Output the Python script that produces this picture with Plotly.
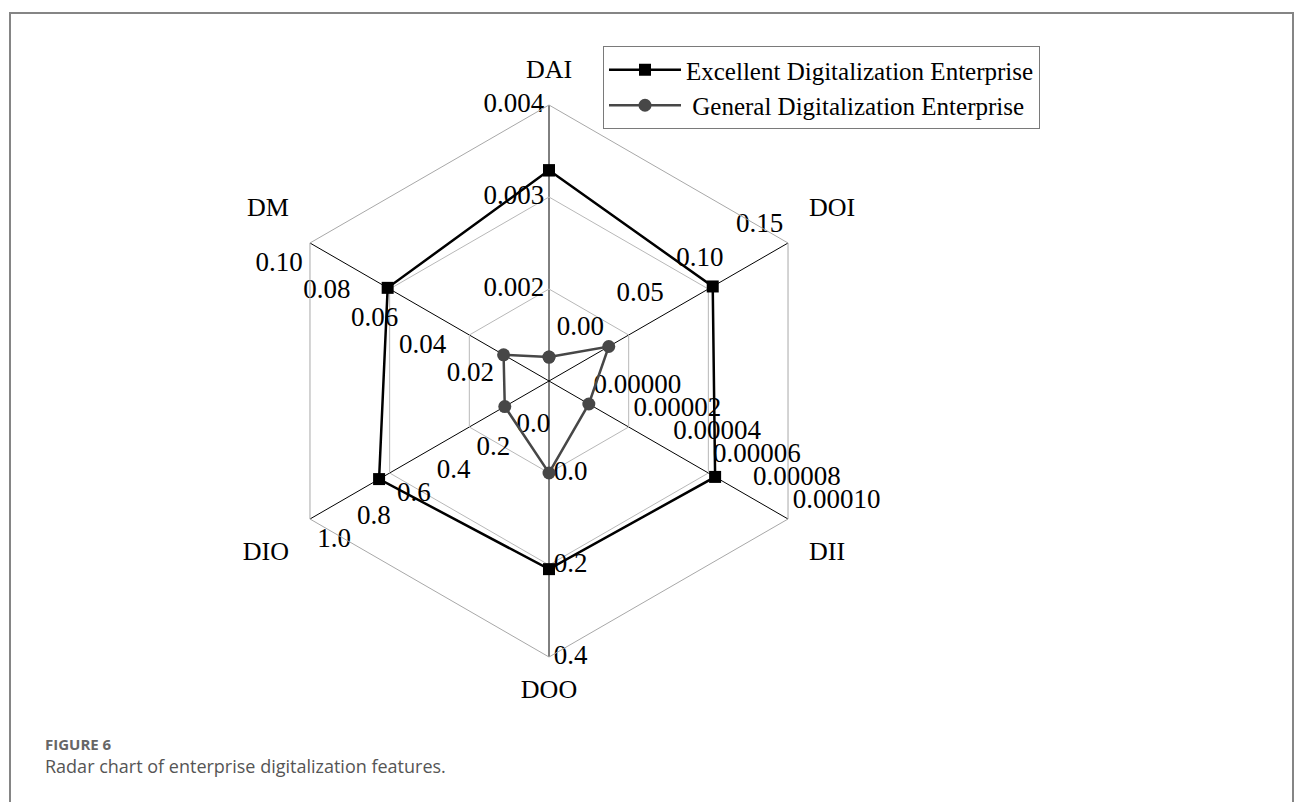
import plotly.graph_objects as go

# Radar axes (clockwise from the top) and the value range each spoke spans
axes = ["DAI", "DOI", "DII", "DOO", "DIO", "DM"]
axis_min = [0.001, -0.05, -0.00002, -0.2, -0.2, 0.0]
axis_max = [0.004, 0.15, 0.0001, 0.4, 1.0, 0.10]

# Tick values / labels shown along each spoke
ticks_dai = [0.002, 0.003, 0.004]
labels_dai = ["0.002", "0.003", "0.004"]
ticks_doi = [0.0, 0.05, 0.10, 0.15]
labels_doi = ["0.00", "0.05", "0.10", "0.15"]
ticks_dii = [0.0, 0.00002, 0.00004, 0.00006, 0.00008, 0.00010]
labels_dii = ["0.00000", "0.00002", "0.00004", "0.00006", "0.00008", "0.00010"]
ticks_doo = [0.0, 0.2, 0.4]
labels_doo = ["0.0", "0.2", "0.4"]
ticks_dio = [0.0, 0.2, 0.4, 0.6, 0.8, 1.0]
labels_dio = ["0.0", "0.2", "0.4", "0.6", "0.8", "1.0"]
ticks_dm = [0.02, 0.04, 0.06, 0.08, 0.10]
labels_dm = ["0.02", "0.04", "0.06", "0.08", "0.10"]

# Series values
excellent = [0.00329, 0.087, 0.0000634, 0.209, 0.653, 0.0675]
general = [0.00126, 0.0, 0.0, 0.0, 0.022, 0.019]

SERIF = "Liberation Serif"
W, H = 1295, 802


def scale(axis_idx, v):
    lo, hi = axis_min[axis_idx], axis_max[axis_idx]
    return (v - lo) / (hi - lo)


def closed(vals):
    r = [scale(i, v) for i, v in enumerate(vals)]
    return r + r[:1], axes + axes[:1]


fig = go.Figure()

# Per-spoke tick labels on the shared normalized radial scale;
# an invisible marker sets the gap between label and spoke
tick_sets = [
    (ticks_dai, labels_dai, "middle left", 6),
    (ticks_doi, labels_doi, "top left", 6),
    (ticks_dii, labels_dii, "top right", 6),
    (ticks_doo, labels_doo, "middle right", 6),
    (ticks_dio, labels_dio, "bottom right", 10),
    (ticks_dm, labels_dm, "bottom left", 10),
]
for i, (tv, tl, pos, pad) in enumerate(tick_sets):
    fig.add_trace(go.Scatterpolar(
        r=[scale(i, v) for v in tv],
        theta=[axes[i]] * len(tv),
        text=tl,
        mode="markers+text",
        marker=dict(size=pad, color="rgba(0,0,0,0)"),
        textposition=pos,
        textfont=dict(family=SERIF, size=27, color="black"),
        hoverinfo="skip",
        showlegend=False,
    ))

# Spoke names just beyond the outer ring
name_pos = ["top center", "top right", "bottom right",
            "bottom center", "bottom left", "top left"]
fig.add_trace(go.Scatterpolar(
    r=[1] * len(axes), theta=axes, text=axes,
    mode="markers+text",
    marker=dict(size=32, color="rgba(0,0,0,0)"),
    textposition=name_pos,
    textfont=dict(family=SERIF, size=26, color="black"),
    hoverinfo="skip", showlegend=False,
))

r_ex, th_ex = closed(excellent)
fig.add_trace(go.Scatterpolar(
    r=r_ex, theta=th_ex, mode="lines+markers",
    name="Excellent Digitalization Enterprise",
    line=dict(color="black", width=2.5),
    marker=dict(symbol="square", size=12, color="black"),
))
r_ge, th_ge = closed(general)
fig.add_trace(go.Scatterpolar(
    r=r_ge, theta=th_ge, mode="lines+markers",
    name="\u00a0General Digitalization Enterprise",
    line=dict(color="#474747", width=2.5),
    marker=dict(symbol="circle", size=13, color="#474747"),
))

cx, cy, R = 549, 381, 276
fig.update_layout(
    width=W, height=H,
    margin=dict(l=0, r=0, t=0, b=0),
    paper_bgcolor="white",
    hovermode=False,
    polar=dict(
        domain=dict(x=[(cx - R) / W, (cx + R) / W],
                    y=[1 - (cy + R) / H, 1 - (cy - R) / H]),
        bgcolor="white",
        gridshape="linear",
        radialaxis=dict(range=[0, 1], tickvals=[1 / 3, 2 / 3, 1],
                        showticklabels=False, ticks="", showline=False,
                        gridcolor="#b8b8b8", gridwidth=1),
        angularaxis=dict(type="category", categoryarray=axes,
                         rotation=90, direction="clockwise",
                         ticks="", showticklabels=False,
                         showline=True, linecolor="#a8a8a8",
                         linewidth=1, gridcolor="black", gridwidth=1.3),
    ),
    legend=dict(
        x=603 / W, y=1 - 46 / H, xanchor="left", yanchor="top",
        bordercolor="#7a7a7a", borderwidth=1, bgcolor="white",
        font=dict(family=SERIF, size=25, color="black"),
        itemwidth=72, tracegroupgap=0,
    ),
    shapes=[dict(type="rect", xref="paper", yref="paper",
                 x0=10 / W, x1=1293 / W, y0=-0.05, y1=1 - 13 / H,
                 line=dict(color="#858585", width=2))],
    annotations=[
        dict(text="<b>FIGURE 6</b>", xref="paper", yref="paper",
             x=43 / W, y=1 - 744 / H, xanchor="left", yanchor="middle",
             showarrow=False,
             font=dict(family="Open Sans", size=15, color="#666666")),
        dict(text="Radar chart of enterprise digitalization features.",
             xref="paper", yref="paper",
             x=43 / W, y=1 - 766 / H, xanchor="left", yanchor="middle",
             showarrow=False,
             font=dict(family="Open Sans", size=18, color="#555555")),
    ],
)

fig.write_html("out.html")
